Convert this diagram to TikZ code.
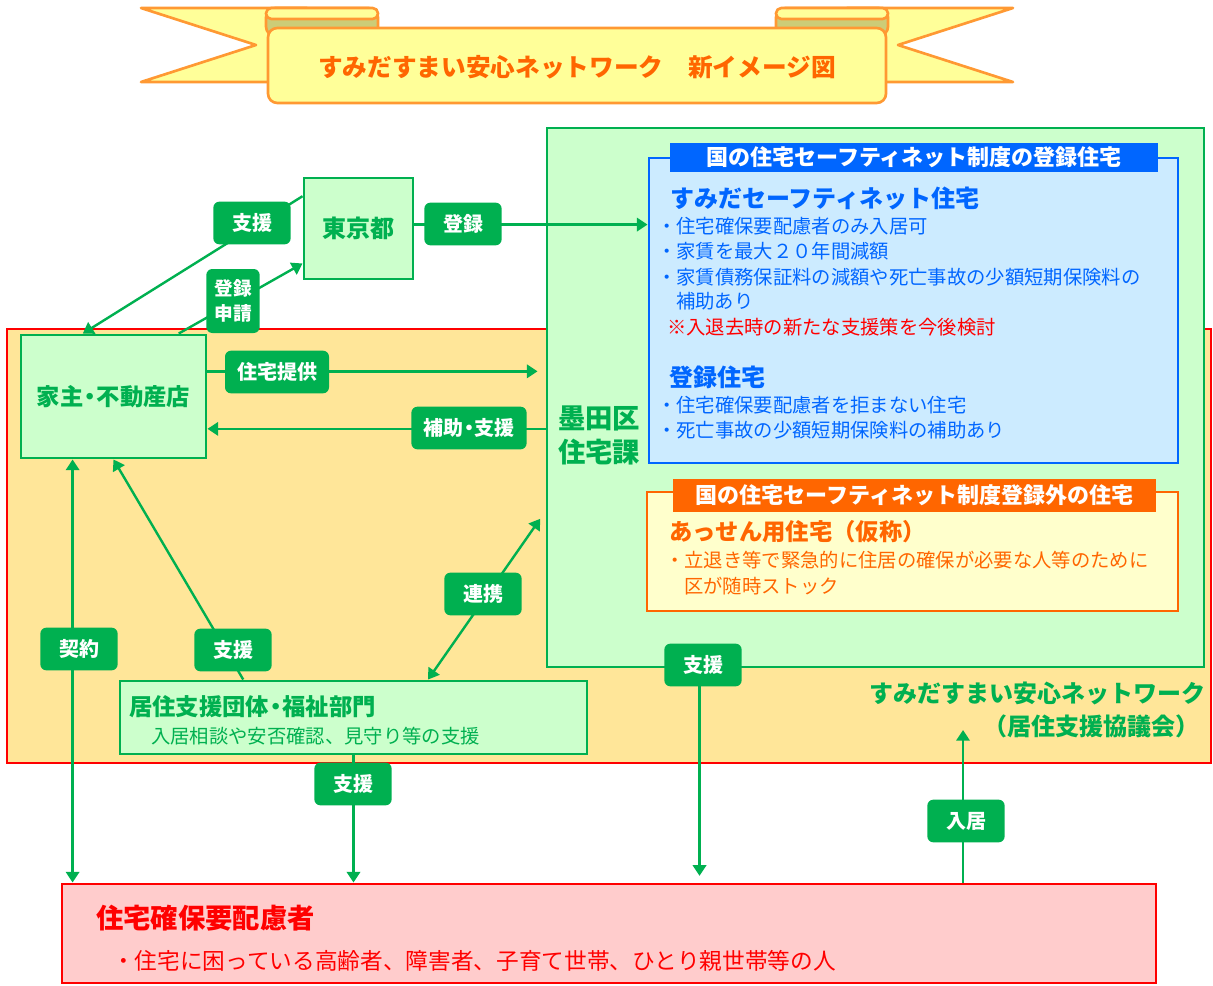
\documentclass[tikz,border=0pt]{standalone}
\usepackage{fontspec}
\setmainfont{Noto Sans CJK JP}
\usetikzlibrary{arrows.meta,fit}
\definecolor{grn}{HTML}{00B050}
\definecolor{grnfill}{HTML}{CCFFCC}
\definecolor{netfill}{HTML}{FFE699}
\definecolor{bluec}{HTML}{0066FF}
\definecolor{bluefill}{HTML}{CCEBFF}
\definecolor{orgc}{HTML}{FF6600}
\definecolor{orgfill}{HTML}{FFFFCC}
\definecolor{pinkfill}{HTML}{FFCCCC}
\definecolor{banline}{HTML}{FF9933}
\definecolor{banfill}{HTML}{FFFF99}
\definecolor{rollc}{HTML}{CCCC77}
\newcommand\fsz[1]{\fontsize{#1}{#1}\selectfont}
\newcommand\ndot{\kern-0.22em・\kern-0.22em}
\tikzset{
  area/.style={draw=#1, line width=2.2pt, inner sep=0pt},
  txt/.style={anchor=west, inner sep=0pt},
  head/.style={fill=#1, text=white, inner sep=0pt, font=\bfseries\fsz{16.5}},
  tag/.style={fill=grn, text=white, rounded corners=4.5pt, font=\bfseries\fsz{15},
    inner xsep=9pt, inner ysep=0pt, minimum width=58pt, minimum height=32pt},
  conn/.style={draw=grn, line width=1.8pt},
  ribbon/.style={draw=banline, line width=2pt, line join=round},
  >={Triangle[length=8pt,width=10pt]},
}
\begin{document}
\begin{tikzpicture}[x=0.75pt, y=-0.75pt]
\useasboundingbox (0,0) rectangle (1213,985);
% banner: tails and rolls, mirrored about the band centre
\foreach \s in {1,-1} {
  \begin{scope}[shift={(577,0)}, xscale=\s]
    \filldraw[ribbon, fill=banfill] (-436,8) -- (-270,8) -- (-270,82) -- (-436,82) -- (-321,45) -- cycle;
    \filldraw[ribbon, fill=rollc, rounded corners=7pt] (-311,8) rectangle (-199,36);
    \filldraw[ribbon, fill=banfill, rounded corners=4pt] (-311,8) rectangle (-199,19);
  \end{scope}
}
\node[ribbon, fill=banfill, rounded corners=7pt, inner sep=0pt, fit={(268,28) (886,103)}] (banner) {};
\node[text=orgc, font=\bfseries\fsz{18.5}] (title) at (577,67) {すみだすまい安心ネットワーク　新イメージ図};

% areas
\node[area=red, fill=netfill, fit={(7,329) (1211,763)}] (net) {};
\node[area=grn, fill=grnfill, fit={(547,128) (1204,667)}] (kubox) {};
\node[area=bluec, fill=bluefill, fit={(649,158) (1178,463)}] (safety) {};
\node[head=bluec, minimum width=366pt, minimum height=21.75pt] (safetyhead) at (914,157.5) {国の住宅セーフティネット制度の登録住宅};
\node[area=orgc, fill=orgfill, fit={(647,492) (1178,611)}] (assen) {};
\node[head=orgc, minimum width=362.25pt, minimum height=24.75pt] (assenhead) at (914.5,495.5) {国の住宅セーフティネット制度登録外の住宅};
\node[text=grn, font=\bfseries\fontsize{20.5}{25.5}\selectfont, align=center, inner sep=0pt] (kuka) at (599,435) {墨田区\\住宅課};

\node[area=grn, fill=grnfill, minimum width=81.75pt, minimum height=75.75pt, text=grn, font=\bfseries\fsz{18}] (tokyo) at (358.5,228.5) {東京都};
\node[area=grn, fill=grnfill, minimum width=138.75pt, minimum height=92.25pt, text=grn, font=\bfseries\fsz{17.5}] (yanushi) at (113.5,396.5) {家主\ndot 不動産店};
\node[area=grn, fill=grnfill, fit={(120,681) (587,754)}] (kyoju) {};
\node[txt, text=grn, font=\bfseries\fsz{17.5}] (kyojuname) at (129,707) {居住支援団体\ndot 福祉部門};
\node[txt, text=grn, font=\fsz{14.5}] (kyojudesc) at (151,736) {入居相談や安否確認、見守り等の支援};
\node[area=red, fill=pinkfill, fit={(62,884) (1156,983)}] (hairyo) {};

% texts in the boxes
\node[txt, text=bluec, font=\bfseries\fsz{18}] (sumidasn) at (670,198) {すみだセーフティネット住宅};
\foreach \yy/\txt [count=\i] in {226/{・住宅確保要配慮者のみ入居可}, 251/{・家賃を最大２０年間減額},
    277/{・家賃債務保証料の減額や死亡事故の少額短期保険料の}}
  \node[txt, text=bluec, font=\fsz{14.5}] (sn-\i) at (657,\yy) {\txt};
\node[txt, text=bluec, font=\fsz{14.5}] (sn-4) at (676,301) {補助あり};
\node[txt, text=red, font=\fsz{14.5}] (snnote) at (667,327) {※入退去時の新たな支援策を今後検討};
\node[txt, text=bluec, font=\bfseries\fsz{18}] (toroku) at (669,377) {登録住宅};
\foreach \yy/\txt [count=\i] in {405/{・住宅確保要配慮者を拒まない住宅}, 430/{・死亡事故の少額短期保険料の補助あり}}
  \node[txt, text=bluec, font=\fsz{14.5}] (tr-\i) at (657,\yy) {\txt};
\node[txt, text=orgc, font=\bfseries\fsz{17.5}] (assenname) at (669,532) {あっせん用住宅（仮称）};
\node[txt, text=orgc, font=\fsz{14.5}] (as-1) at (665,560) {・立退き等で緊急的に住居の確保が必要な人等のために};
\node[txt, text=orgc, font=\fsz{14.5}] (as-2) at (684,586) {区が随時ストック};
\node[anchor=east, inner sep=0pt, text=grn, font=\bfseries\fsz{18}] (netname) at (1206,693) {すみだすまい安心ネットワーク};
\node[anchor=east, inner sep=0pt, text=grn, font=\bfseries\fsz{18}] (netsub) at (1200,726) {（居住支援協議会）};
\node[txt, text=red, font=\bfseries\fsz{20.5}] (hairyoname) at (96,918) {住宅確保要配慮者};
\node[txt, text=red, font=\fsz{17}] (hairyodesc) at (112,961) {・住宅に困っている高齢者、障害者、子育て世帯、ひとり親世帯等の人};

% connectors
\coordinate (netin) at (963,730);
\draw[conn,->] (tokyo.150) -- (yanushi.116);
\draw[conn,->] (yanushi.44) -- (tokyo.212);
\draw[conn,->] (tokyo.4) -- (tokyo.4 -| safety.west);
\draw[conn,->,shorten >=6pt] (yanushi.15) -- (yanushi.15 -| kubox.west);
\draw[conn,->] (yanushi.-19 -| kubox.west) -- (yanushi.-19);
\draw[conn,<->] (yanushi.237) -- (yanushi.237 |- hairyo.north);
\draw[conn,->] (kyoju.161) -- (yanushi.south);
\draw[conn,<->,shorten >=7pt] (kyoju.27) -- (kubox.199);
\draw[conn,->] (kyoju.south) -- (kyoju.south |- hairyo.north);
\draw[conn,->,shorten >=5pt] (kubox.237) -- (kubox.237 |- hairyo.north);
\draw[conn,->] (netin |- hairyo.north) -- (netin);

% labels on the connectors
\foreach \nm/\xx/\yy/\txt in {shien-a/252/223/支援, toroku-t/463/224/登録, teikyo/277/372/住宅提供,
    hojo/469/428/補助\ndot 支援, keiyaku/79/649/契約, shien-b/233/650/支援, renkei/483/594/連携,
    shien-c/353/784/支援, shien-d/703/665/支援, nyukyo/966/821/入居}
  \node[tag] (\nm) at (\xx,\yy) {\txt};
\node[tag, font=\bfseries\fontsize{14}{19}\selectfont, align=center, minimum width=0pt,
  inner xsep=6pt, minimum height=48pt] (shinsei) at (233,301) {登録\\申請};
\end{tikzpicture}
\end{document}
